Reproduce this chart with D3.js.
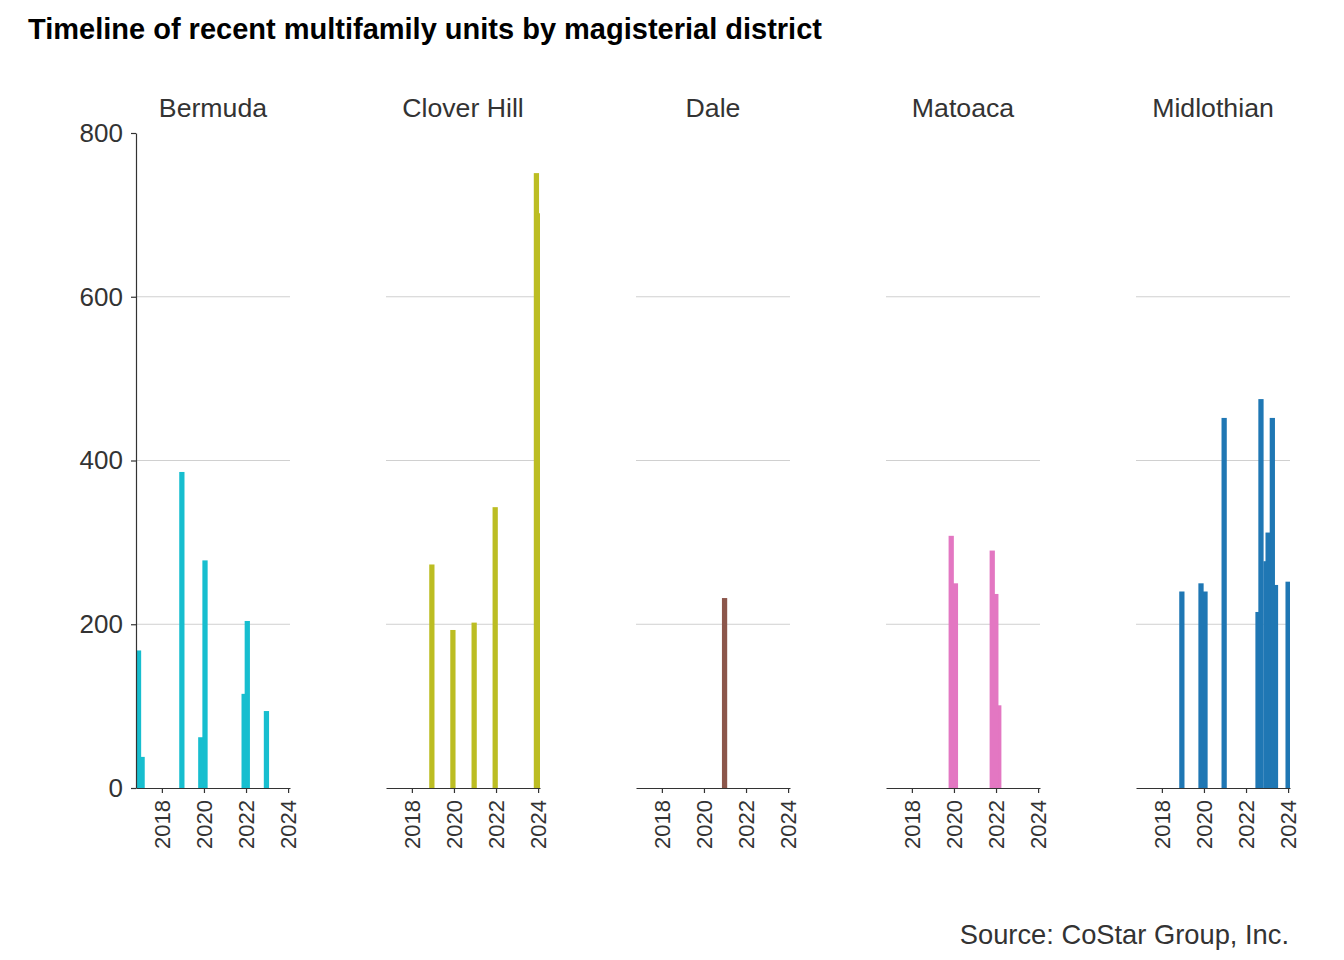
<!DOCTYPE html>
<html><head><meta charset="utf-8">
<script src="https://cdn.jsdelivr.net/npm/d3@7"></script>
<style>body{margin:0;background:#fff;} text{font-family:"Liberation Sans",Arial,sans-serif;}</style>
</head><body><svg id="c" width="1344" height="960"></svg>
<script>
const districts = ["Bermuda", "Clover Hill", "Dale", "Matoaca", "Midlothian"];
const colors = ["#17becf", "#bcbd22", "#8c564b", "#e377c2", "#1f77b4"];
// completion dates (decimal years) and units
const bermudaDates = [2016.89, 2017.06, 2018.95, 2019.85, 2020.05, 2021.91, 2022.06, 2022.97];
const bermudaUnits = [168, 38, 386, 62, 278, 115, 204, 94];
const cloverHillDates = [2018.95, 2019.95, 2020.96, 2021.96, 2023.92, 2024.0];
const cloverHillUnits = [273, 193, 202, 343, 751, 702];
const daleDates = [2020.98];
const daleUnits = [232];
const matoacaDates = [2019.87, 2020.07, 2021.82, 2021.99, 2022.13];
const matoacaUnits = [308, 250, 290, 237, 101];
const midlothianDates = [2018.95, 2019.86, 2020.05, 2020.96, 2022.57, 2022.71, 2022.95, 2023.05, 2023.25, 2023.40, 2024.0];
const midlothianUnits = [240, 250, 240, 452, 215, 475, 277, 312, 452, 248, 252];
const xTicks = [2018, 2020, 2022, 2024];
const yTicks = [0, 200, 400, 600, 800];
const gridTicks = [200, 400, 600];

const seriesDates = [bermudaDates, cloverHillDates, daleDates, matoacaDates, midlothianDates];
const seriesUnits = [bermudaUnits, cloverHillUnits, daleUnits, matoacaUnits, midlothianUnits];

const svg = d3.select("#c");
const panelW = 154, panelStep = 250, left0 = 136;
const plotTop = 133, plotBottom = 788;
const barW = 0.25;
const x = d3.scaleLinear().domain([2016.77, 2024.09]).range([0, panelW]);
const y = d3.scaleLinear().domain([0, 800]).range([plotBottom, plotTop]);

svg.append("text").attr("x", 28).attr("y", 39).attr("font-size", 29).attr("font-weight", "bold")
  .attr("fill", "#000").text("Timeline of recent multifamily units by magisterial district");

svg.append("defs").append("clipPath").attr("id", "clip")
  .append("rect").attr("x", 0).attr("y", 0).attr("width", panelW).attr("height", plotBottom + 1);

districts.forEach((name, i) => {
  const g = svg.append("g").attr("transform", `translate(${left0 + i * panelStep},0)`);
  g.append("text").attr("x", panelW / 2).attr("y", 117).attr("text-anchor", "middle")
    .attr("font-size", 26.7).attr("fill", "#333").text(name);
  g.selectAll("line.grid").data(gridTicks).join("line")
    .attr("x1", 0).attr("x2", panelW).attr("y1", d => y(d)).attr("y2", d => y(d))
    .attr("stroke", "#d0d0d0").attr("stroke-width", 1);
  const data = seriesDates[i].map((d, k) => ({ d, v: seriesUnits[i][k] }))
    .sort((a, b) => b.d - a.d);
  g.append("g").attr("clip-path", "url(#clip)").selectAll("rect").data(data).join("rect")
    .attr("x", d => x(d.d - barW / 2)).attr("width", d => x(d.d + barW / 2) - x(d.d - barW / 2))
    .attr("y", d => y(d.v)).attr("height", d => y(0) - y(d.v))
    .attr("fill", colors[i]);
  const xa = g.append("g").attr("transform", `translate(0,${plotBottom})`)
    .call(d3.axisBottom(x).tickValues(xTicks).tickFormat(d3.format("d")).tickSize(5).tickSizeOuter(0));
  xa.select(".domain").attr("stroke", "#333").attr("stroke-width", 1.2);
  xa.selectAll(".tick line").attr("stroke", "#333").attr("stroke-width", 1.2);
  xa.selectAll(".tick text").attr("font-size", 22).attr("fill", "#333").attr("font-family", "Liberation Sans, Arial, sans-serif")
    .attr("transform", "rotate(-90)").attr("text-anchor", "end").attr("x", -12).attr("y", 0).attr("dy", "0.35em");
  if (i === 0) {
    const ya = g.append("g").call(d3.axisLeft(y).tickValues(yTicks).tickSize(5).tickSizeOuter(0));
    ya.select(".domain").attr("stroke", "#333").attr("stroke-width", 1.2);
    ya.selectAll(".tick line").attr("stroke", "#333").attr("stroke-width", 1.2);
    ya.selectAll(".tick text").attr("font-size", 26).attr("fill", "#333").attr("x", -13)
      .attr("font-family", "Liberation Sans, Arial, sans-serif");
  }
});

svg.append("text").attr("x", 1289).attr("y", 944).attr("text-anchor", "end").attr("font-size", 27.3)
  .attr("fill", "#333").text("Source: CoStar Group, Inc.");
</script></body></html>
